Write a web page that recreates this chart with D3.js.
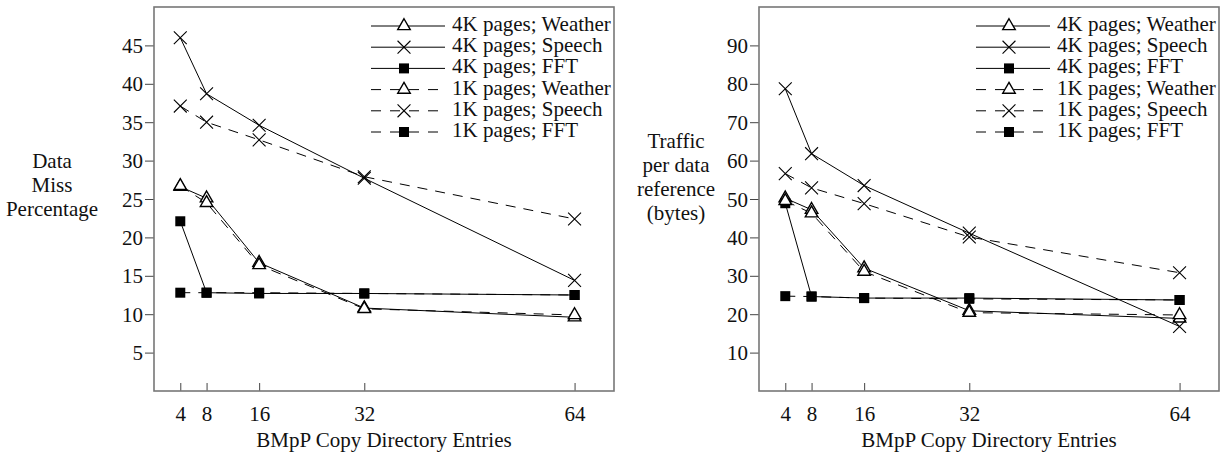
<!DOCTYPE html>
<html>
<head>
<meta charset="utf-8">
<script src="https://cdn.jsdelivr.net/npm/d3@7"></script>
<style>
  body { margin: 0; background: #fff; }
  text { font-family: "Liberation Serif", "Times New Roman", serif; fill: #111; }
</style>
</head>
<body>
<svg id="chart" width="1225" height="455"></svg>
<script>
// copy directory entries
const entries = [4, 8, 16, 32, 64];

// data miss percentage
const missWeather4K = [26.6, 25.1, 16.7, 10.8, 9.6];
const missSpeech4K = [46.0, 38.7, 34.6, 27.7, 14.4];
const missFFT4K = [22.1, 12.8, 12.7, 12.7, 12.5];
const missWeather1K = [26.7, 24.5, 16.4, 10.7, 9.9];
const missSpeech1K = [37.1, 35.0, 32.7, 27.9, 22.4];
const missFFT1K = [12.8, 12.8, 12.8, 12.7, 12.5];

// traffic per data reference (bytes)
const trafficWeather4K = [50.2, 47.2, 32.0, 20.9, 18.9];
const trafficSpeech4K = [78.7, 61.8, 53.5, 41.1, 16.8];
const trafficFFT4K = [48.9, 24.6, 24.2, 24.2, 23.7];
const trafficWeather1K = [49.5, 46.3, 31.1, 20.4, 19.8];
const trafficSpeech1K = [56.6, 52.9, 48.8, 40.1, 30.8];
const trafficFFT1K = [24.7, 24.6, 24.2, 24.0, 23.7];

const seriesNames = ["4K pages; Weather", "4K pages; Speech", "4K pages; FFT",
                     "1K pages; Weather", "1K pages; Speech", "1K pages; FFT"];
const seriesMarks = ["triangle", "x", "square", "triangle", "x", "square"];
const seriesDashed = [false, false, false, true, true, true];

const missTicks = [5, 10, 15, 20, 25, 30, 35, 40, 45];
const trafficTicks = [10, 20, 30, 40, 50, 60, 70, 80, 90];

const svg = d3.select("#chart");
const FS = 21;

const symbols = {
    triangle: d3.symbol(d3.symbolTriangle, 68),
    x: d3.symbol(d3.symbolX, 110),
    square: d3.symbol(d3.symbolSquare, 100)
};

function drawMark(g, kind, x, y) {
    let p = g.append("path")
        .attr("d", symbols[kind]())
        .attr("transform", `translate(${x},${y})`);
    if (kind === "triangle") p.attr("fill", "#fff").attr("stroke", "#000").attr("stroke-width", 1.4);
    else if (kind === "x") p.attr("fill", "none").attr("stroke", "#000").attr("stroke-width", 1.1);
    else p.attr("fill", "#000");
}

function panel(left, series, yMax, ticks, labelLines, labelX, labelY0) {
    const top = 7, bottom = 391, right = left + 460;
    const x = d3.scaleLinear().domain([0, 70]).range([left, right]);
    const y = d3.scaleLinear().domain([0, yMax]).range([bottom, top]);
    const g = svg.append("g");

    // y axis
    g.append("g")
        .attr("transform", `translate(${left},0)`)
        .call(d3.axisLeft(y).tickValues(ticks).tickSize(9).tickPadding(2))
        .call(a => a.select(".domain").remove())
        .call(a => a.selectAll("line").attr("stroke", "#444"))
        .call(a => a.selectAll("text").style("font-size", FS + "px")
            .attr("font-family", null).attr("fill", "#111").attr("dy", "0.34em"));

    // x axis, ticks point inward
    g.append("g")
        .attr("transform", `translate(0,${bottom})`)
        .call(d3.axisBottom(x).tickValues(entries).tickSizeInner(-8).tickSizeOuter(0))
        .call(a => a.select(".domain").remove())
        .call(a => a.selectAll("line").attr("stroke", "#444"))
        .call(a => a.selectAll("text").style("font-size", FS + "px")
            .attr("font-family", null).attr("fill", "#111").attr("y", 30).attr("dy", 0));

    // frame
    g.append("rect")
        .attr("x", left).attr("y", top)
        .attr("width", right - left).attr("height", bottom - top)
        .attr("fill", "none").attr("stroke", "#777").attr("stroke-width", 1.6);

    const line = d3.line().x((d, i) => x(entries[i])).y(d => y(d));

    series.forEach((vals, s) => {
        g.append("path")
            .datum(vals)
            .attr("d", line)
            .attr("fill", "none")
            .attr("stroke", "#000")
            .attr("stroke-width", 1)
            .attr("stroke-dasharray", seriesDashed[s] ? "10,8" : null);
    });
    series.forEach((vals, s) => {
        vals.forEach((v, i) => drawMark(g, seriesMarks[s], x(entries[i]), y(v)));
    });

    // legend
    const lg = g.append("g").attr("transform", `translate(${left + 217},26)`);
    seriesNames.forEach((name, s) => {
        const ry = s * 21.2;
        lg.append("line")
            .attr("x1", 0).attr("x2", 74).attr("y1", ry).attr("y2", ry)
            .attr("stroke", "#000").attr("stroke-width", 1)
            .attr("stroke-dasharray", seriesDashed[s] ? "10,9" : null);
        drawMark(lg, seriesMarks[s], 33, ry);
        lg.append("text")
            .attr("x", 81).attr("y", ry + 5)
            .style("font-size", FS + "px")
            .text(name);
    });

    // x label
    g.append("text")
        .attr("x", (left + right) / 2).attr("y", 447)
        .attr("text-anchor", "middle")
        .style("font-size", FS + "px")
        .text("BMpP Copy Directory Entries");

    // y label
    labelLines.forEach((t, i) => {
        g.append("text")
            .attr("x", labelX).attr("y", labelY0 + i * 24)
            .attr("text-anchor", "middle")
            .style("font-size", FS + "px")
            .text(t);
    });
}

panel(154, [missWeather4K, missSpeech4K, missFFT4K, missWeather1K, missSpeech1K, missFFT1K],
      50, missTicks, ["Data", "Miss", "Percentage"], 52, 168);
panel(759, [trafficWeather4K, trafficSpeech4K, trafficFFT4K, trafficWeather1K, trafficSpeech1K, trafficFFT1K],
      100, trafficTicks, ["Traffic", "per data", "reference", "(bytes)"], 676, 148);
</script>
</body>
</html>
